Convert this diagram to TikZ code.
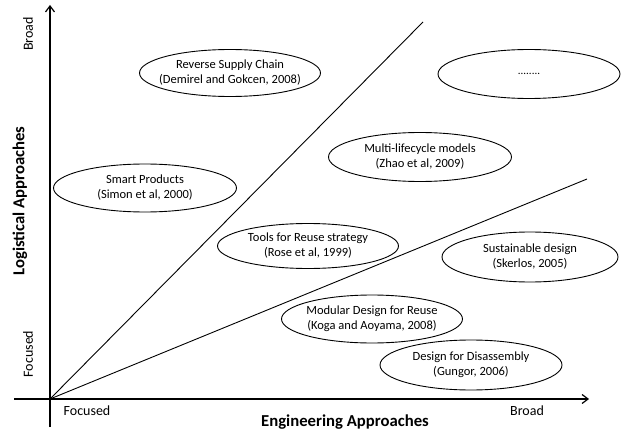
\documentclass[tikz,border=0pt]{standalone}
\usepackage{fontspec}
\setmainfont{Carlito}
\usetikzlibrary{shapes.geometric,arrows.meta}
\begin{document}
\begin{tikzpicture}[x=1pt,y=-1pt,
  oval/.style={draw,ellipse,line width=0.9pt,fill=white,inner xsep=-15pt,inner ysep=-2pt,align=center,
    font=\fontsize{12.5}{15}\selectfont},
  axis/.style={line width=1.2pt,-{Straight Barb[length=6pt,width=9pt]}},
  split/.style={line width=0.9pt},
  lbl/.style={font=\fontsize{14}{16}\selectfont},
  title/.style={font=\fontsize{16.7}{18}\bfseries}]
\useasboundingbox (0,0) rectangle (621,433);
\coordinate (o) at (50,399);
\coordinate (ybot) at (50,427);
\coordinate (ytop) at (50,5);
\coordinate (xl) at (14,399);
\coordinate (xr) at (589,399);
\coordinate (l1) at (423,22);
\coordinate (l2) at (587,179);
\draw[axis] (ybot) -- (ytop);
\draw[axis] (xl) -- (xr);
\draw[split] (o) -- (l1);
\draw[split] (o) -- (l2);
\node[oval,minimum width=181pt,minimum height=47pt] (rsc) at (230,73) {Reverse Supply Chain\\(Demirel and Gokcen, 2008)};
\node[oval,minimum width=182pt,minimum height=49pt] (dots) at (529,74) {\fontsize{11}{12}\selectfont ........};
\node[oval,minimum width=183pt,minimum height=48pt] (sp) at (145,188) {Smart Products\\(Simon et al, 2000)};
\node[oval,minimum width=183pt,minimum height=49pt] (mlm) at (420,157) {Multi-lifecycle models\\(Zhao et al, 2009)};
\node[oval,minimum width=181pt,minimum height=45pt] (tfr) at (308,246) {Tools for Reuse strategy\\(Rose et al, 1999)};
\node[oval,minimum width=176pt,minimum height=50pt] (sd) at (530,257) {Sustainable design\\(Skerlos, 2005)};
\node[oval,minimum width=181pt,minimum height=48pt] (mdr) at (372,319) {Modular Design for Reuse\\(Koga and Aoyama, 2008)};
\node[oval,minimum width=182pt,minimum height=50pt] (dfd) at (471,365) {Design for Disassembly\\(Gungor, 2006)};
\node[lbl,rotate=90] (yb) at (28,34) {Broad};
\node[lbl,rotate=90] (yf) at (28,354) {Focused};
\node[title,rotate=90] (yt) at (20,201) {Logistical Approaches};
\node[lbl] (xf) at (87,411) {Focused};
\node[lbl] (xb) at (527,411) {Broad};
\node[title] (xt) at (345,422) {Engineering Approaches};
\end{tikzpicture}
\end{document}
